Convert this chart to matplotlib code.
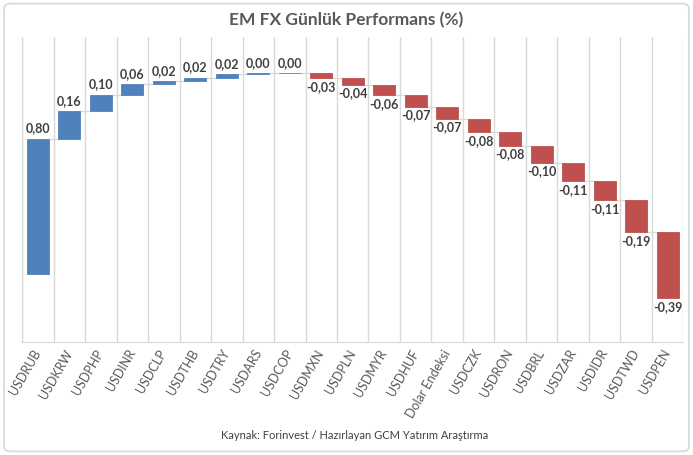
import numpy as np
import matplotlib.pyplot as plt
from matplotlib.patches import FancyBboxPatch

plt.rcParams['font.family'] = ['Lato', 'DejaVu Sans']

# data
currencies = ['USDRUB', 'USDKRW', 'USDPHP', 'USDINR', 'USDCLP', 'USDTHB', 'USDTRY',
              'USDARS', 'USDCOP', 'USDMXN', 'USDPLN', 'USDMYR', 'USDHUF', 'Dolar Endeksi',
              'USDCZK', 'USDRON', 'USDBRL', 'USDZAR', 'USDIDR', 'USDTWD', 'USDPEN']
changes = [0.80, 0.16, 0.10, 0.06, 0.02, 0.02, 0.02, 0.004, 0.004,
           -0.03, -0.04, -0.06, -0.07, -0.07, -0.08, -0.08, -0.10, -0.11, -0.11, -0.19, -0.39]

title = 'EM FX Günlük Performans (%)'
source = 'Kaynak: Forinvest / Hazırlayan GCM Yatırım Araştırma'

blue = '#4f81bd'
red = '#c0504d'
grid_c = '#d9d9d9'

vals = np.array(changes)
ends = np.cumsum(vals)
starts = ends - vals
x = np.arange(len(currencies))
w = 0.7

fig = plt.figure(figsize=(6.93, 4.55), dpi=100)
fig.patches.append(FancyBboxPatch((0.006, 0.008), 0.988, 0.984, boxstyle='round,pad=0,rounding_size=0.01',
                                  transform=fig.transFigure, fc='white', ec=grid_c, lw=1.2, zorder=-1))
ax = fig.add_axes([0.032, 0.248, 0.954, 0.671])
ax.patch.set_alpha(0)

colors = [blue if v >= 0 else red for v in vals]
ax.bar(x, vals, bottom=starts, width=w, color=colors, edgecolor=colors, lw=0.6, zorder=3)

# connector lines
for i in range(len(x) - 1):
    ax.plot([x[i] + w / 2, x[i + 1] - w / 2], [ends[i], ends[i]], color=grid_c, lw=1, zorder=2)

# data labels
for i, v in enumerate(vals):
    txt = f'{v:.2f}'.replace('.', ',')
    if v >= 0:
        ax.annotate(txt, (x[i], ends[i]), xytext=(0, 3), textcoords='offset points',
                    ha='center', va='bottom', fontsize=9, fontweight='bold', color='#404040')
    else:
        ax.annotate(txt, (x[i], ends[i]), xytext=(0, -2), textcoords='offset points',
                    ha='center', va='top', fontsize=9, fontweight='bold', color='#404040')

ax.set_xlim(-0.5, len(x) - 0.5)
ax.set_ylim(-0.4, 1.4)
ax.set_yticks([])
ax.set_xticks(x)
ax.set_xticklabels(currencies, rotation=60, ha='right', va='center', rotation_mode='anchor',
                   fontsize=9, color='#595959')
ax.tick_params(axis='x', length=0, pad=6)
ax.set_xticks(np.arange(-0.5, len(x)), minor=True)
ax.tick_params(axis='x', which='minor', length=0)
ax.grid(axis='x', which='minor', color=grid_c, lw=1, zorder=0)
for s in ['top', 'right']:
    ax.spines[s].set_visible(False)
ax.spines['left'].set_color(grid_c)
ax.spines['bottom'].set_color(grid_c)

fig.text(0.5, 0.955, title, ha='center', va='center', fontsize=12.5, fontweight='bold', color='#595959')
fig.text(0.512, 0.042, source, ha='center', va='center', fontsize=8, color='#404040')

fig.savefig('out.png', dpi=100)
